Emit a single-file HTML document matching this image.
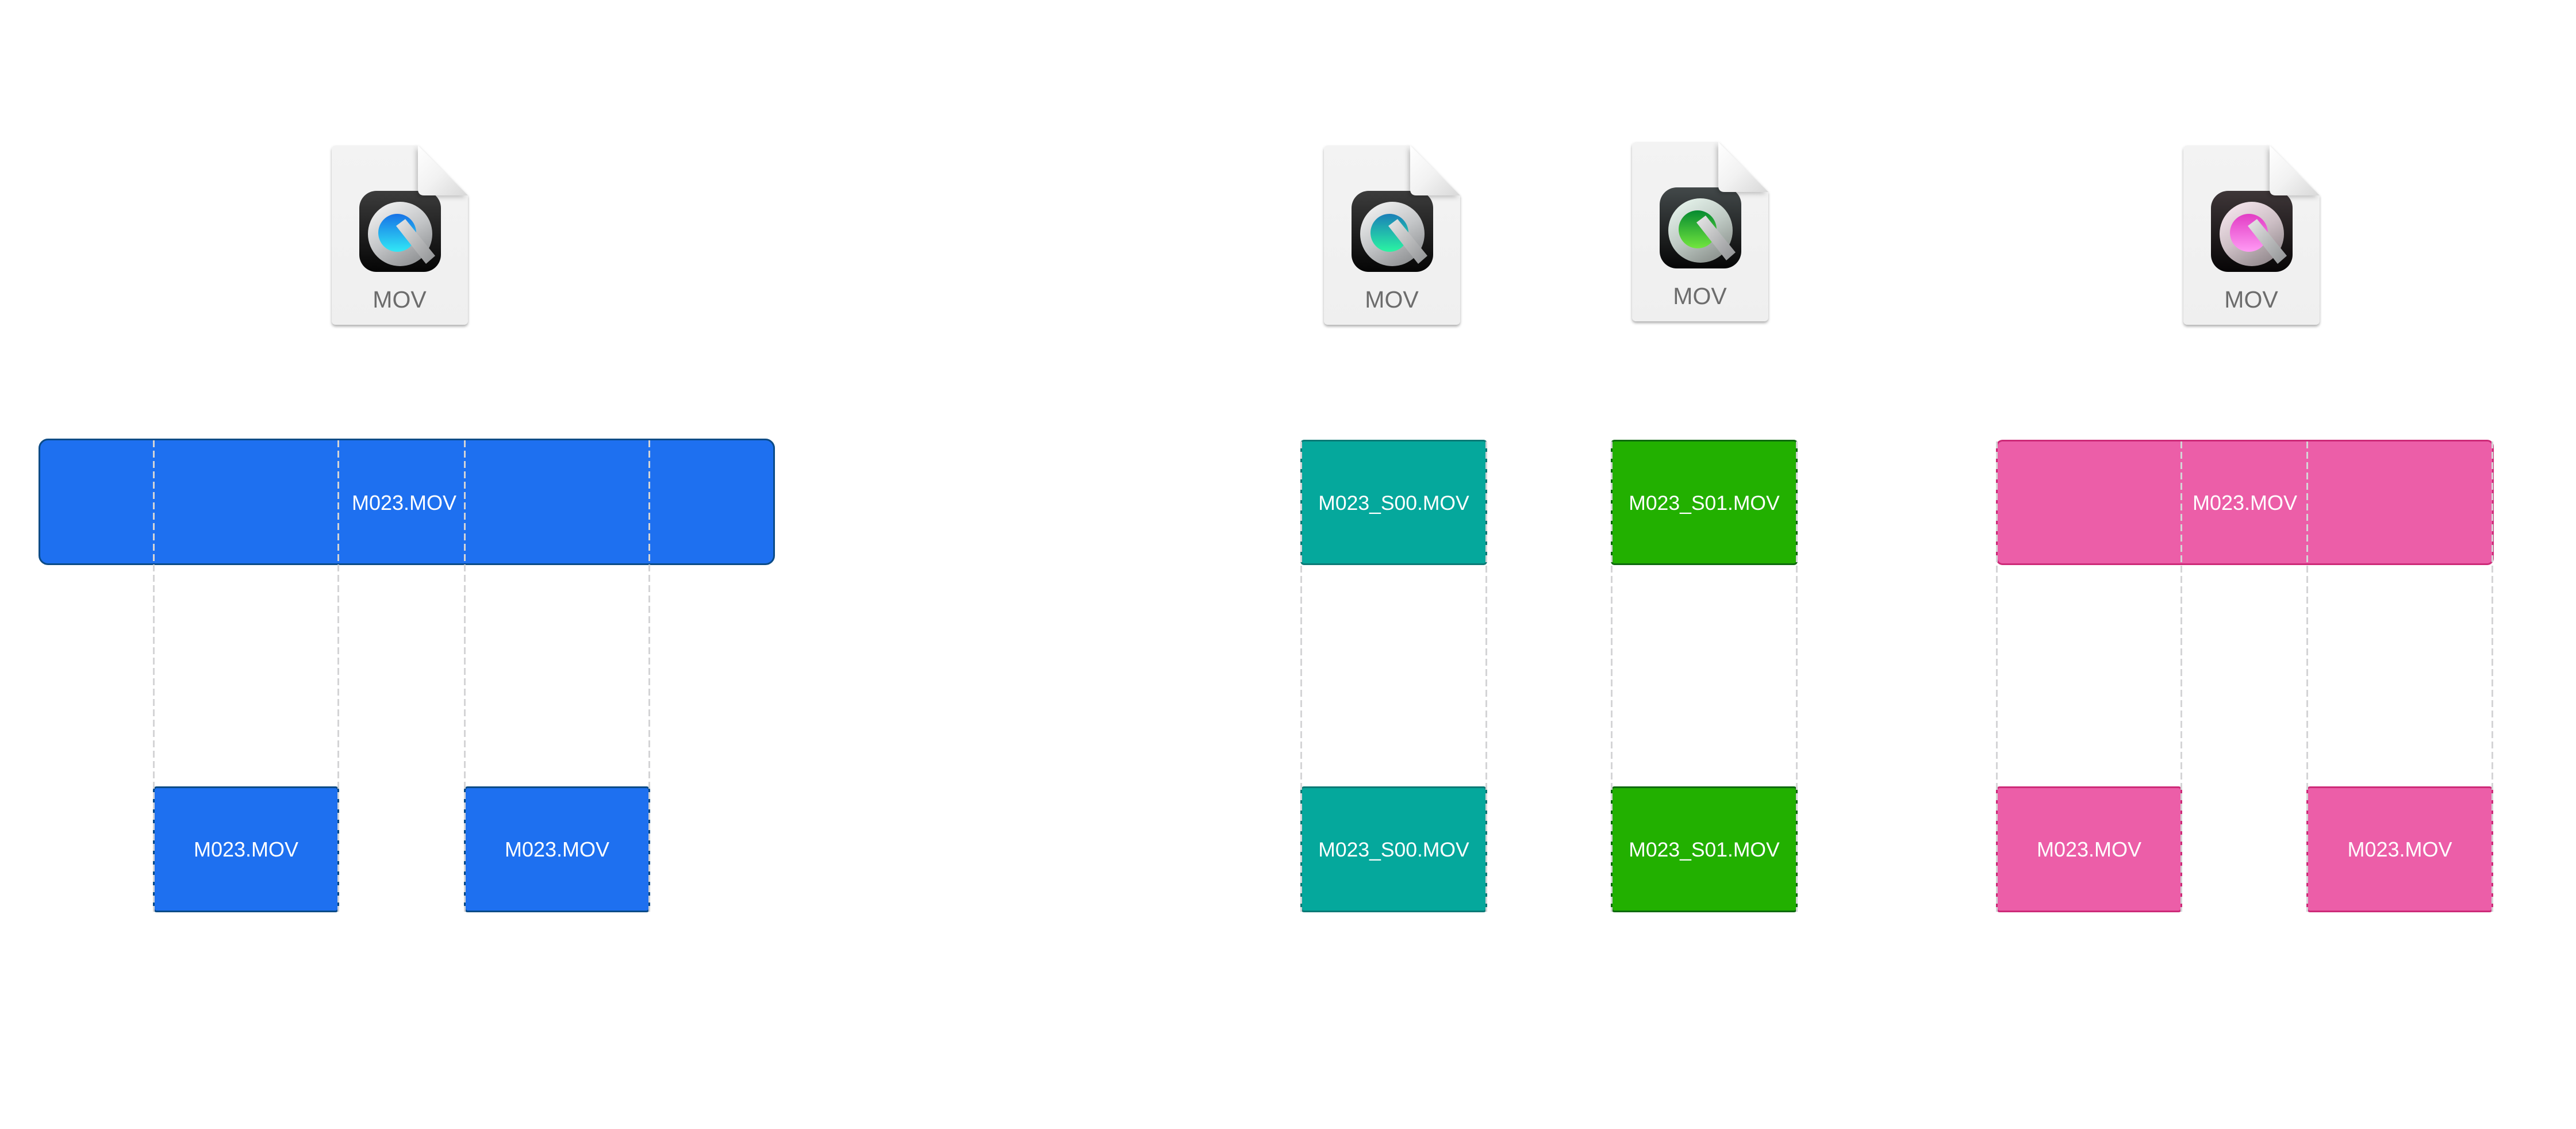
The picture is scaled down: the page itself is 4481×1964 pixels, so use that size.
<!DOCTYPE html>
<html>
<head>
<meta charset="utf-8">
<style>
  html, body { margin:0; padding:0; background:#ffffff; }
  body { width:4481px; height:1964px; overflow:hidden; }
  svg { display:block; }
  text { font-family: "Liberation Sans", Arial, sans-serif; }
</style>
</head>
<body>
<svg width="4481" height="1964" viewBox="0 0 4481 1964" xmlns="http://www.w3.org/2000/svg">
  <defs>
    <filter id="pgshadow" x="-10%" y="-10%" width="120%" height="120%">
      <feDropShadow dx="0" dy="3" stdDeviation="2.5" flood-color="#000" flood-opacity="0.32"/>
    </filter>
    <filter id="foldshadow" x="-30%" y="-30%" width="160%" height="160%">
      <feDropShadow dx="-3" dy="3" stdDeviation="4" flood-color="#000" flood-opacity="0.22"/>
    </filter>
    <linearGradient id="page" x1="0" y1="0" x2="0" y2="1">
      <stop offset="0" stop-color="#f3f3f3"/>
      <stop offset="1" stop-color="#efefef"/>
    </linearGradient>
    <linearGradient id="fold" x1="0" y1="0" x2="1" y2="1">
      <stop offset="0" stop-color="#ffffff"/>
      <stop offset="0.5" stop-color="#f2f2f2"/>
      <stop offset="1" stop-color="#d8d8d8"/>
    </linearGradient>
    <linearGradient id="dark" x1="0" y1="0" x2="0" y2="1">
      <stop offset="0" stop-color="#3c3c3c"/>
      <stop offset="1" stop-color="#050505"/>
    </linearGradient>
    <linearGradient id="darkPink" x1="0" y1="0" x2="0" y2="1">
      <stop offset="0" stop-color="#3e3638"/>
      <stop offset="1" stop-color="#070506"/>
    </linearGradient>
    <linearGradient id="darkGreen" x1="0" y1="0" x2="0" y2="1">
      <stop offset="0" stop-color="#43494a"/>
      <stop offset="1" stop-color="#060606"/>
    </linearGradient>
    <linearGradient id="silver" x1="0.2" y1="0" x2="0.8" y2="1">
      <stop offset="0" stop-color="#f2f2f2"/>
      <stop offset="0.5" stop-color="#c4c6c8"/>
      <stop offset="1" stop-color="#8a8c8e"/>
    </linearGradient>
    <linearGradient id="silverPink" x1="0.2" y1="0" x2="0.8" y2="1">
      <stop offset="0" stop-color="#f6e6ee"/>
      <stop offset="0.5" stop-color="#cdbfc5"/>
      <stop offset="1" stop-color="#8d8488"/>
    </linearGradient>
    <linearGradient id="silverGreen" x1="0.2" y1="0" x2="0.8" y2="1">
      <stop offset="0" stop-color="#e6f4ec"/>
      <stop offset="0.5" stop-color="#bfcac4"/>
      <stop offset="1" stop-color="#868c88"/>
    </linearGradient>
    <linearGradient id="tail" x1="0" y1="0" x2="1" y2="1">
      <stop offset="0" stop-color="#e8e8e8"/>
      <stop offset="1" stop-color="#8e9092"/>
    </linearGradient>
    <linearGradient id="qBlue" x1="0" y1="0" x2="0" y2="1">
      <stop offset="0" stop-color="#1772e6"/>
      <stop offset="1" stop-color="#31e8f6"/>
    </linearGradient>
    <linearGradient id="qTeal" x1="0" y1="0" x2="0" y2="1">
      <stop offset="0" stop-color="#1a7fb8"/>
      <stop offset="1" stop-color="#2af5a2"/>
    </linearGradient>
    <linearGradient id="qGreen" x1="0" y1="0" x2="0" y2="1">
      <stop offset="0" stop-color="#058a30"/>
      <stop offset="1" stop-color="#72e63e"/>
    </linearGradient>
    <linearGradient id="qPink" x1="0" y1="0" x2="0" y2="1">
      <stop offset="0" stop-color="#e23cc4"/>
      <stop offset="1" stop-color="#ff9af4"/>
    </linearGradient>
  </defs>

  <!-- ========== ICONS ========== -->
  <!-- Blue icon -->
  <g transform="translate(577,253)">
    <path d="M8,0 H150 L237,87 V304 Q237,312 229,312 H8 Q0,312 0,304 V8 Q0,0 8,0 Z" fill="url(#page)" filter="url(#pgshadow)"/>
    <rect x="48" y="79" width="142" height="141" rx="30" fill="url(#dark)"/>
    <circle cx="119" cy="154" r="56" fill="url(#silver)"/>
    <circle cx="114" cy="152" r="33" fill="url(#qBlue)"/>
    <path d="M112,140 L128,128 L180,192 L164,206 Z" fill="url(#tail)"/>
    <path d="M150,0 V76 Q150,87 161,87 H237 Z" fill="url(#fold)" filter="url(#foldshadow)"/>
    <text x="118" y="282" font-size="41" fill="#6c6c6c" text-anchor="middle">MOV</text>
  </g>

  <!-- Teal icon -->
  <g transform="translate(2303,253)">
    <path d="M8,0 H150 L237,87 V304 Q237,312 229,312 H8 Q0,312 0,304 V8 Q0,0 8,0 Z" fill="url(#page)" filter="url(#pgshadow)"/>
    <rect x="48" y="79" width="142" height="141" rx="30" fill="url(#dark)"/>
    <circle cx="119" cy="154" r="56" fill="url(#silver)"/>
    <circle cx="114" cy="152" r="33" fill="url(#qTeal)"/>
    <path d="M112,140 L128,128 L180,192 L164,206 Z" fill="url(#tail)"/>
    <path d="M150,0 V76 Q150,87 161,87 H237 Z" fill="url(#fold)" filter="url(#foldshadow)"/>
    <text x="118" y="282" font-size="41" fill="#6c6c6c" text-anchor="middle">MOV</text>
  </g>

  <!-- Green icon -->
  <g transform="translate(2839,247)">
    <path d="M8,0 H150 L237,87 V304 Q237,312 229,312 H8 Q0,312 0,304 V8 Q0,0 8,0 Z" fill="url(#page)" filter="url(#pgshadow)"/>
    <rect x="48" y="79" width="142" height="141" rx="30" fill="url(#darkGreen)"/>
    <circle cx="119" cy="154" r="56" fill="url(#silverGreen)"/>
    <circle cx="114" cy="152" r="33" fill="url(#qGreen)"/>
    <path d="M112,140 L128,128 L180,192 L164,206 Z" fill="url(#tail)"/>
    <path d="M150,0 V76 Q150,87 161,87 H237 Z" fill="url(#fold)" filter="url(#foldshadow)"/>
    <text x="118" y="282" font-size="41" fill="#6c6c6c" text-anchor="middle">MOV</text>
  </g>

  <!-- Pink icon -->
  <g transform="translate(3798,253)">
    <path d="M8,0 H150 L237,87 V304 Q237,312 229,312 H8 Q0,312 0,304 V8 Q0,0 8,0 Z" fill="url(#page)" filter="url(#pgshadow)"/>
    <rect x="48" y="79" width="142" height="141" rx="30" fill="url(#darkPink)"/>
    <circle cx="119" cy="154" r="56" fill="url(#silverPink)"/>
    <circle cx="114" cy="152" r="33" fill="url(#qPink)"/>
    <path d="M112,140 L128,128 L180,192 L164,206 Z" fill="url(#tail)"/>
    <path d="M150,0 V76 Q150,87 161,87 H237 Z" fill="url(#fold)" filter="url(#foldshadow)"/>
    <text x="118" y="282" font-size="41" fill="#6c6c6c" text-anchor="middle">MOV</text>
  </g>

  <!-- ========== BLUE GROUP ========== -->
  <rect x="68.5" y="764.5" width="1278" height="217" rx="15" fill="#1e70f0" stroke="#0b4b87" stroke-width="3"/>
  <text x="703" y="887" font-size="36" fill="#ffffff" text-anchor="middle">M023.MOV</text>

  <rect x="267.5" y="1369.5" width="321" height="216" rx="5" fill="#1e70f0" stroke="#0b4b87" stroke-width="3"/>
  <text x="428" y="1490" font-size="36" fill="#ffffff" text-anchor="middle">M023.MOV</text>

  <rect x="808.5" y="1369.5" width="321" height="216" rx="5" fill="#1e70f0" stroke="#0b4b87" stroke-width="3"/>
  <text x="969" y="1490" font-size="36" fill="#ffffff" text-anchor="middle">M023.MOV</text>

  <!-- ========== TEAL GROUP ========== -->
  <rect x="2263.5" y="766.5" width="322" height="215" rx="5" fill="#05a89c" stroke="#0b7a76" stroke-width="3"/>
  <text x="2424.5" y="887" font-size="35.5" fill="#ffffff" text-anchor="middle">M023_S00.MOV</text>

  <rect x="2263.5" y="1369.5" width="322" height="216" rx="5" fill="#05a89c" stroke="#0b7a76" stroke-width="3"/>
  <text x="2424.5" y="1490" font-size="35.5" fill="#ffffff" text-anchor="middle">M023_S00.MOV</text>

  <!-- ========== GREEN GROUP ========== -->
  <rect x="2803.5" y="766.5" width="322" height="215" rx="5" fill="#22b000" stroke="#0e6a0e" stroke-width="3"/>
  <text x="2964.5" y="887" font-size="35.5" fill="#ffffff" text-anchor="middle">M023_S01.MOV</text>

  <rect x="2803.5" y="1369.5" width="322" height="216" rx="5" fill="#22b000" stroke="#0e6a0e" stroke-width="3"/>
  <text x="2964.5" y="1490" font-size="35.5" fill="#ffffff" text-anchor="middle">M023_S01.MOV</text>

  <!-- ========== PINK GROUP ========== -->
  <rect x="3473.5" y="766.5" width="863" height="215" rx="10" fill="#ec5ea8" stroke="#cd2a78" stroke-width="3"/>
  <text x="3905" y="887" font-size="36" fill="#ffffff" text-anchor="middle">M023.MOV</text>

  <rect x="3473.5" y="1369.5" width="321" height="216" rx="5" fill="#ec5ea8" stroke="#cd2a78" stroke-width="3"/>
  <text x="3634" y="1490" font-size="36" fill="#ffffff" text-anchor="middle">M023.MOV</text>

  <rect x="4013.5" y="1369.5" width="322" height="216" rx="5" fill="#ec5ea8" stroke="#cd2a78" stroke-width="3"/>
  <text x="4174.5" y="1490" font-size="36" fill="#ffffff" text-anchor="middle">M023.MOV</text>

  <!-- ========== DASHED GUIDE LINES ========== -->
  <g stroke="#d4d4d6" stroke-width="3" stroke-dasharray="12 6" fill="none">
    <line x1="267.5" y1="766" x2="267.5" y2="1586"/>
    <line x1="588.5" y1="766" x2="588.5" y2="1586"/>
    <line x1="808.5" y1="766" x2="808.5" y2="1586"/>
    <line x1="1129.5" y1="766" x2="1129.5" y2="1586"/>

    <line x1="2263.5" y1="768" x2="2263.5" y2="1586"/>
    <line x1="2585.5" y1="768" x2="2585.5" y2="1586"/>

    <line x1="2803.5" y1="768" x2="2803.5" y2="1586"/>
    <line x1="3125.5" y1="768" x2="3125.5" y2="1586"/>

    <line x1="3473.5" y1="768" x2="3473.5" y2="1586"/>
    <line x1="3794.5" y1="768" x2="3794.5" y2="1586"/>
    <line x1="4013.5" y1="768" x2="4013.5" y2="1586"/>
    <line x1="4335.5" y1="768" x2="4335.5" y2="1586"/>
  </g>
</svg>
</body>
</html>
